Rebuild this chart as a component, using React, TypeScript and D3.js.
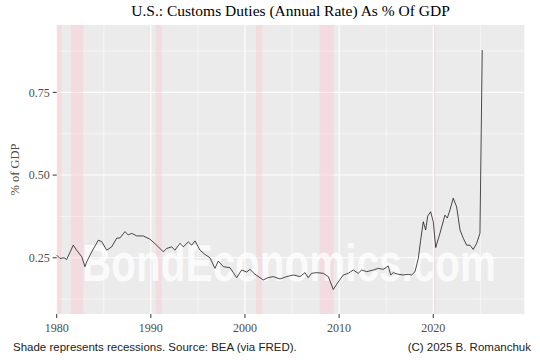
import React from "react";
import * as d3 from "d3";

const years: number[] = [
  1980.0, 1980.35, 1980.78, 1981.06, 1981.76, 1982.12, 1982.66, 1983.0, 1983.19, 1983.72,
  1984.42, 1984.78, 1985.31, 1985.84, 1986.37, 1986.72, 1987.25, 1987.6, 1987.97, 1988.5,
  1989.2, 1989.91, 1990.62, 1991.32, 1991.68, 1992.21, 1992.56, 1993.1, 1993.45, 1993.98,
  1994.34, 1994.69, 1995.22, 1995.75, 1996.28, 1996.81, 1997.16, 1997.7, 1998.41, 1999.12,
  1999.65, 2000.18, 2000.53, 2001.06, 2001.94, 2002.47, 2003.0, 2003.72, 2004.43, 2005.13,
  2005.84, 2006.37, 2006.72, 2007.08, 2007.62, 2008.32, 2008.85, 2009.38, 2009.74, 2010.44,
  2010.97, 2011.5, 2012.03, 2012.4, 2012.93, 2013.63, 2014.16, 2014.69, 2015.22, 2015.48,
  2015.75, 2016.28, 2016.81, 2017.34, 2017.7, 2018.06, 2018.41, 2018.66, 2018.94, 2019.19,
  2019.41, 2019.72, 2020.0, 2020.26, 2020.71, 2021.24, 2021.49, 2021.77, 2022.12, 2022.48,
  2022.84, 2023.19, 2023.55, 2023.9, 2024.25, 2024.61, 2024.96, 2025.14, 2025.2,
];

const dutiesPctGdp: number[] = [
  0.258, 0.248, 0.25, 0.245, 0.288, 0.273, 0.253, 0.223, 0.238, 0.268,
  0.303, 0.299, 0.273, 0.283, 0.309, 0.31, 0.329, 0.319, 0.324, 0.316,
  0.316, 0.306, 0.288, 0.268, 0.278, 0.283, 0.273, 0.294, 0.283, 0.298,
  0.288, 0.301, 0.273, 0.26, 0.25, 0.218, 0.24, 0.223, 0.22, 0.19,
  0.213, 0.207, 0.215, 0.2, 0.183, 0.19, 0.193, 0.186, 0.193, 0.198,
  0.193, 0.205, 0.19, 0.203, 0.205, 0.203, 0.193, 0.154, 0.17, 0.198,
  0.203, 0.213, 0.203, 0.213, 0.208, 0.213, 0.218, 0.215, 0.225, 0.198,
  0.205, 0.2, 0.198, 0.2, 0.198, 0.208, 0.248, 0.303, 0.359, 0.334,
  0.376, 0.389, 0.359, 0.281, 0.324, 0.379, 0.37, 0.394, 0.43, 0.404,
  0.334, 0.309, 0.288, 0.288, 0.275, 0.294, 0.324, 0.74, 0.878,
];

const recessionStarts: number[] = [1980.0, 1981.5, 1990.5, 2001.17, 2007.92, 2020.08];
const recessionEnds: number[] = [1980.5, 1982.83, 1991.17, 2001.83, 2009.42, 2020.25];

const xMajorTicks: number[] = [1980, 1990, 2000, 2010, 2020];
const xMinorTicks: number[] = [1985, 1995, 2005, 2015, 2025];
const yMajorTicks: number[] = [0.25, 0.5, 0.75];
const yMinorTicks: number[] = [0.125, 0.375, 0.625, 0.875];

const title = "U.S.: Customs Duties (Annual Rate) As % Of GDP";
const yTitle = "% of GDP";
const footLeft = "Shade represents recessions. Source: BEA (via FRED).";
const footRight = "(C) 2025 B. Romanchuk";
const watermark = "BondEconomics.com";

const W = 540;
const H = 360;
const panel = { left: 56.7, right: 524.3, top: 25, bottom: 314 };

export default function App() {
  const x = d3.scaleLinear().domain([1980, 2029.67]).range([panel.left, panel.right]);
  const y = d3.scaleLinear().domain([0.08, 0.9537]).range([panel.bottom, panel.top]);
  const line = d3
    .line<number>()
    .x((_, i) => x(years[i]))
    .y((d) => y(d));
  const serif = "'Liberation Serif', 'Times New Roman', serif";
  const sans = "'Liberation Sans', Arial, sans-serif";
  return (
    <svg
      width={W}
      height={H}
      style={{ position: "absolute", left: 0, top: 0, background: "#fff" }}
    >
      <rect x={0} y={0} width={W} height={H} fill="#fff" />
      <text x={(panel.left + panel.right) / 2} y={16} textAnchor="middle" fontFamily={serif} fontSize={15.5} fill="#000">
        {title}
      </text>
      <rect
        x={panel.left}
        y={panel.top}
        width={panel.right - panel.left}
        height={panel.bottom - panel.top}
        fill="#ebebeb"
      />
      {yMinorTicks.map((t) => (
        <line key={"ym" + t} x1={panel.left} x2={panel.right} y1={y(t)} y2={y(t)} stroke="#fff" strokeWidth={0.55} />
      ))}
      {xMinorTicks.map((t) => (
        <line key={"xm" + t} x1={x(t)} x2={x(t)} y1={panel.top} y2={panel.bottom} stroke="#fff" strokeWidth={0.55} />
      ))}
      {yMajorTicks.map((t) => (
        <line key={"yM" + t} x1={panel.left} x2={panel.right} y1={y(t)} y2={y(t)} stroke="#fff" strokeWidth={1.1} />
      ))}
      {xMajorTicks.map((t) => (
        <line key={"xM" + t} x1={x(t)} x2={x(t)} y1={panel.top} y2={panel.bottom} stroke="#fff" strokeWidth={1.1} />
      ))}
      {recessionStarts.map((s, i) => (
        <rect
          key={"r" + i}
          x={x(s)}
          y={panel.top}
          width={Math.max(x(recessionEnds[i]) - x(s), 1)}
          height={panel.bottom - panel.top}
          fill="#ffc0cb"
          opacity={0.35}
        />
      ))}
      <g transform="translate(82, 281) scale(1, 1.3)">
        <text
          x={0}
          y={0}
          fontFamily={sans}
          fontWeight="bold"
          fontSize={40}
          fill="#ffffff"
          opacity={0.75}
          textLength={414}
          lengthAdjust="spacingAndGlyphs"
        >
          {watermark}
        </text>
      </g>
      <path d={line(dutiesPctGdp) || ""} fill="none" stroke="#000" strokeWidth={0.7} />
      {yMajorTicks.map((t) => (
        <g key={"yl" + t}>
          <line x1={panel.left - 4} x2={panel.left} y1={y(t)} y2={y(t)} stroke="#333" strokeWidth={1} />
          <text x={panel.left - 7} y={y(t)} dy="0.35em" textAnchor="end" fontFamily={serif} fontSize={12} fill="#4d4d4d">
            {t.toFixed(2)}
          </text>
        </g>
      ))}
      {xMajorTicks.map((t) => (
        <g key={"xl" + t}>
          <line x1={x(t)} x2={x(t)} y1={panel.bottom} y2={panel.bottom + 4} stroke="#333" strokeWidth={1} />
          <text x={x(t)} y={332} textAnchor="middle" fontFamily={serif} fontSize={12} fill="#4d4d4d">
            {t}
          </text>
        </g>
      ))}
      <text
        transform={`translate(19, ${(panel.top + panel.bottom) / 2}) rotate(-90)`}
        textAnchor="middle"
        fontFamily={serif}
        fontSize={12.5}
        fill="#4d4d4d"
      >
        {yTitle}
      </text>
      <text x={13} y={351} fontFamily={sans} fontSize={11.5} fill="#222">
        {footLeft}
      </text>
      <text x={531} y={351} textAnchor="end" fontFamily={sans} fontSize={11.5} fill="#222">
        {footRight}
      </text>
    </svg>
  );
}
